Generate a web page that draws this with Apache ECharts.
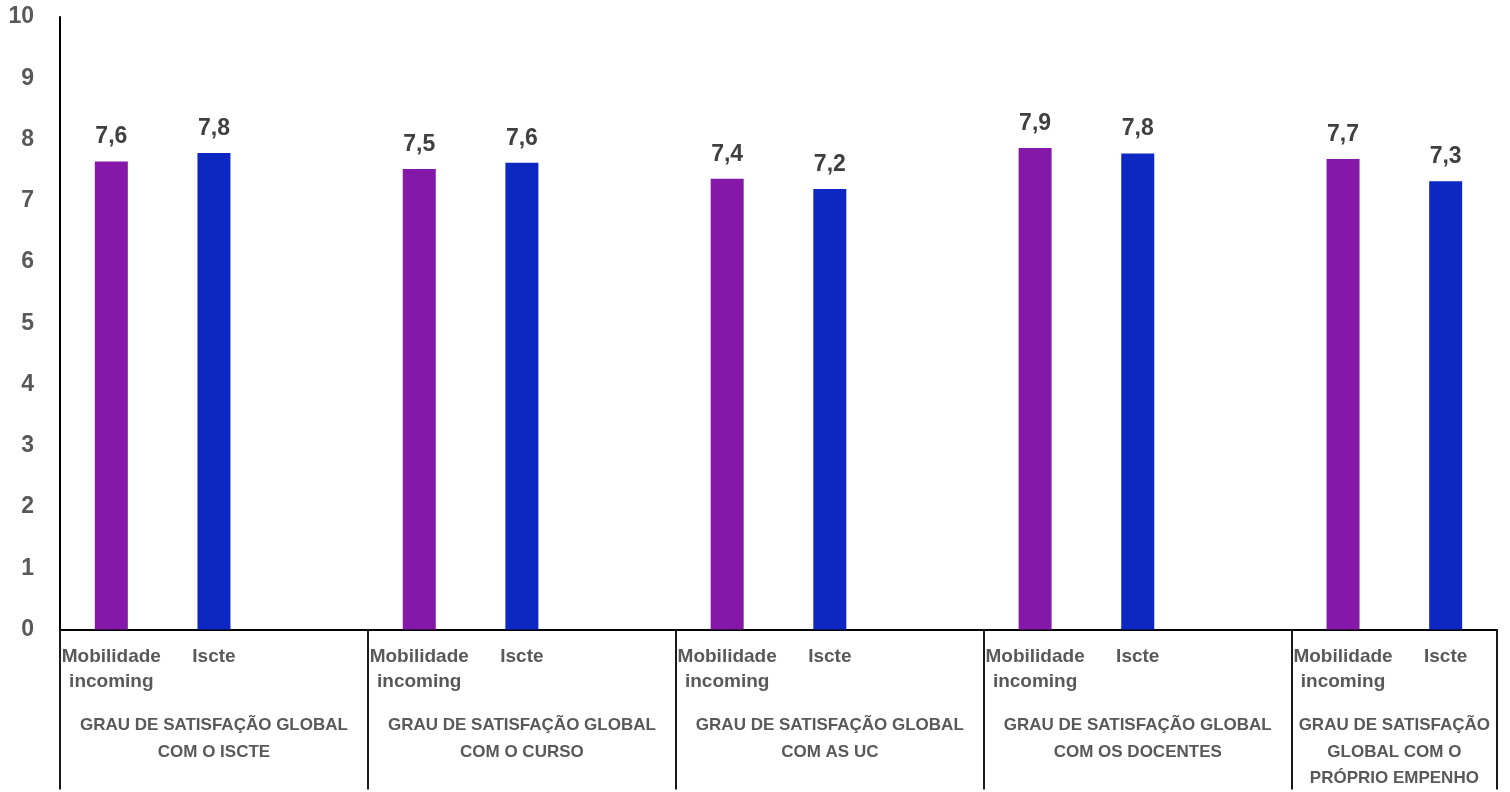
<!DOCTYPE html>
<html>
<head>
<meta charset="utf-8">
<script src="https://cdn.jsdelivr.net/npm/echarts@6/dist/echarts.min.js"></script>
<style>
html,body{margin:0;padding:0;background:#fff;overflow:hidden;}
#chart{width:1510px;height:792px;}
</style>
</head>
<body>
<div id="chart"></div>
<script>
// ---- data ----
const groups = [
  'GRAU DE SATISFAÇÃO GLOBAL\nCOM O ISCTE',
  'GRAU DE SATISFAÇÃO GLOBAL\nCOM O CURSO',
  'GRAU DE SATISFAÇÃO GLOBAL\nCOM AS UC',
  'GRAU DE SATISFAÇÃO GLOBAL\nCOM OS DOCENTES',
  'GRAU DE SATISFAÇÃO\nGLOBAL COM O\nPRÓPRIO EMPENHO'
];
const subCategories = ['Mobilidade\nincoming', 'Iscte'];
const mobilidade = [7.64, 7.52, 7.36, 7.86, 7.68];
const iscte = [7.78, 7.62, 7.19, 7.77, 7.32];
const yMin = 0, yMax = 10, yInterval = 1;

// ---- build slot layout (each group: 2 bars + 1 empty slot, last group has no empty slot) ----
const slotLabels = [];
const mobData = [];
const iscData = [];
const groupStart = [];
const groupCenter = [];
groups.forEach((g, i) => {
  const start = slotLabels.length;
  groupStart.push(start);
  slotLabels.push(subCategories[0]); mobData.push(mobilidade[i]); iscData.push(null);
  slotLabels.push(subCategories[1]); mobData.push(null); iscData.push(iscte[i]);
  if (i < groups.length - 1) { slotLabels.push(''); mobData.push(null); iscData.push(null); }
  const end = slotLabels.length;
  groupCenter.push((start + end) / 2);
});
const totalSlots = slotLabels.length;
const boundaries = groupStart.concat([totalSlots]);

const slotKeys = slotLabels.map((_, i) => 's' + i);

const chart = echarts.init(document.getElementById('chart'));
const fontFamily = '"Liberation Sans", Arial, sans-serif';
const lblFmt = p => (p.value == null ? '' : p.value.toFixed(1).replace('.', ','));

chart.setOption({
  animation: false,
  backgroundColor: '#ffffff',
  grid: { left: 60, top: 17, width: 1437, height: 622, containLabel: false },
  xAxis: [
    {
      type: 'category',
      position: 'bottom',
      data: slotKeys,
      axisLine: { show: true, lineStyle: { color: '#000', width: 2 } },
      axisTick: { show: false },
      axisLabel: {
        interval: 0,
        margin: 15,
        color: '#595959',
        fontWeight: 'bold',
        fontSize: 19,
        lineHeight: 25,
        fontFamily: fontFamily,
        formatter: (v, idx) => slotLabels[idx]
      },
      splitLine: { show: false }
    },
    {
      type: 'value',
      position: 'bottom',
      min: 0,
      max: totalSlots,
      axisLine: { show: false },
      axisTick: {
        show: true,
        customValues: boundaries,
        length: 160,
        lineStyle: { color: '#1a1a1a', width: 2 }
      },
      axisLabel: {
        show: true,
        customValues: groupCenter,
        margin: 83,
        color: '#595959',
        fontWeight: 'bold',
        fontSize: 17,
        lineHeight: 26.5,
        fontFamily: fontFamily,
        align: 'center',
        formatter: v => {
          const i = groupCenter.indexOf(v);
          return i >= 0 ? groups[i] : '';
        }
      },
      splitLine: { show: false }
    }
  ],
  yAxis: {
    type: 'value',
    min: yMin,
    max: yMax,
    interval: yInterval,
    axisLine: { show: true, lineStyle: { color: '#000', width: 2 } },
    axisTick: { show: false },
    splitLine: { show: false },
    axisLabel: {
      margin: 26,
      color: '#595959',
      fontWeight: 'bold',
      fontSize: 23,
      fontFamily: fontFamily
    }
  },
  series: [
    {
      name: 'Mobilidade incoming',
      type: 'bar',
      xAxisIndex: 0,
      data: mobData,
      barWidth: 33,
      barGap: '-100%',
      itemStyle: { color: '#8618A9' },
      label: {
        show: true, position: 'top', distance: 13,
        color: '#404040', fontWeight: 'bold', fontSize: 23, fontFamily: fontFamily,
        formatter: lblFmt
      }
    },
    {
      name: 'Iscte',
      type: 'bar',
      xAxisIndex: 0,
      data: iscData,
      barWidth: 33,
      barGap: '-100%',
      itemStyle: { color: '#0C27C2' },
      label: {
        show: true, position: 'top', distance: 13,
        color: '#404040', fontWeight: 'bold', fontSize: 23, fontFamily: fontFamily,
        formatter: lblFmt
      }
    }
  ]
});
</script>
</body>
</html>
